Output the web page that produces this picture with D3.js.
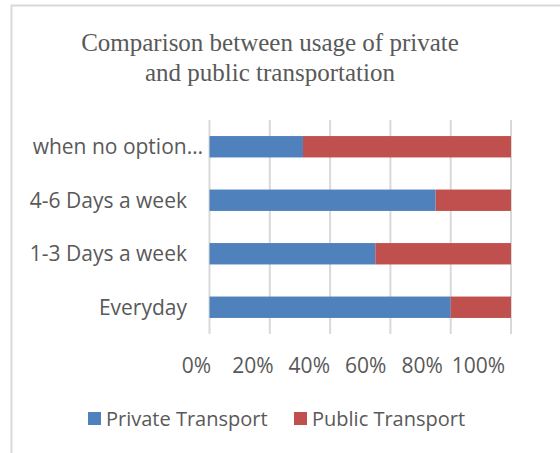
<!DOCTYPE html>
<meta charset="utf-8">
<style>
    body { margin: 0; background: #fff; }
    .tick text, .label, .legend text { font-family: "Open Sans", sans-serif; fill: #595959; }
    .grid line { stroke: #d9d9d9; stroke-width: 2px; }
</style>
<svg width="560" height="453"></svg>
<script src="https://d3js.org/d3.v7.min.js"></script>
<script>
    var categories = ["Everyday", "1-3 Days a week", "4-6 Days a week", "when no option…"];
    var privateTransport = [80, 55, 75, 31];
    var publicTransport = [20, 45, 25, 69];
    var seriesNames = ["Private Transport", "Public Transport"];
    var colors = ["#4f81bd", "#c0504d"];
    var tickValues = [0, 0.2, 0.4, 0.6, 0.8, 1];

    var svg = d3.select("svg");

    // chart frame (only top + left edges fall inside the crop)
    svg.append("path")
        .attr("d", "M11.5,454V5.5H561")
        .attr("fill", "none")
        .attr("stroke", "#d9d9d9")
        .attr("stroke-width", 2);

    // title
    var title = svg.append("text")
        .attr("text-anchor", "middle")
        .attr("font-family", "'Liberation Serif', serif")
        .attr("font-size", 25)
        .attr("fill", "#595959");
    title.append("tspan").attr("x", 270).attr("y", 51).text("Comparison between usage of private");
    title.append("tspan").attr("x", 270).attr("y", 81).text("and public transportation");

    var rows = categories.map(function(c, i) {
        var total = privateTransport[i] + publicTransport[i];
        return { cat: c, vals: [privateTransport[i] / total, publicTransport[i] / total] };
    });

    var x = d3.scaleLinear().domain([0, 1]).range([209.5, 511]);
    // excel squeezed the tick labels a bit to the left
    var xLabel = d3.scaleLinear().domain([0, 1]).range([196, 478]);
    var y = d3.scaleBand()
        .domain(categories.slice().reverse())
        .range([120, 334])
        .paddingInner(0.6)
        .paddingOuter(0.3);

    // gridlines
    svg.append("g")
        .attr("class", "grid")
        .selectAll("line")
        .data(tickValues)
        .enter().append("line")
        .attr("x1", function(d) { return x(d); })
        .attr("x2", function(d) { return x(d); })
        .attr("y1", 120)
        .attr("y2", 334);

    // bars
    var stack = [];
    rows.forEach(function(r) {
        var acc = 0;
        r.vals.forEach(function(v, k) {
            stack.push({ cat: r.cat, x0: acc, x1: acc + v, k: k });
            acc += v;
        });
    });

    svg.append("g")
        .selectAll("rect")
        .data(stack)
        .enter().append("rect")
        .attr("x", function(d) { return x(d.x0); })
        .attr("width", function(d) { return x(d.x1) - x(d.x0); })
        .attr("y", function(d) { return y(d.cat); })
        .attr("height", y.bandwidth())
        .attr("fill", function(d) { return colors[d.k]; });

    // x axis labels
    var xAxis = svg.append("g")
        .attr("transform", "translate(0,334)")
        .call(d3.axisBottom(xLabel).tickValues(tickValues).tickFormat(d3.format(".0%")).tickSize(0).tickPadding(24));
    xAxis.select(".domain").remove();
    xAxis.selectAll("text").attr("font-size", 21).attr("fill", "#595959").attr("font-family", "'Open Sans', sans-serif");

    // category labels
    svg.append("g")
        .selectAll("text")
        .data(categories)
        .enter().append("text")
        .attr("class", "label")
        .attr("x", function(d) { return d.indexOf("…") >= 0 ? 203 : 187; })
        .attr("y", function(d) { return y(d) + y.bandwidth() / 2; })
        .attr("dy", "0.35em")
        .attr("text-anchor", "end")
        .attr("font-size", 21)
        .text(function(d) { return d; });

    // legend
    var legendX = [88, 294];
    var legend = svg.append("g")
        .attr("class", "legend")
        .selectAll("g")
        .data(seriesNames)
        .enter().append("g")
        .attr("transform", function(d, i) { return "translate(" + legendX[i] + ",412)"; });
    legend.append("rect")
        .attr("width", 13).attr("height", 13)
        .attr("fill", function(d, i) { return colors[i]; });
    legend.append("text")
        .attr("x", 18)
        .attr("y", 6.5)
        .attr("dy", "0.35em")
        .attr("font-size", 20)
        .text(function(d) { return d; });
</script>
